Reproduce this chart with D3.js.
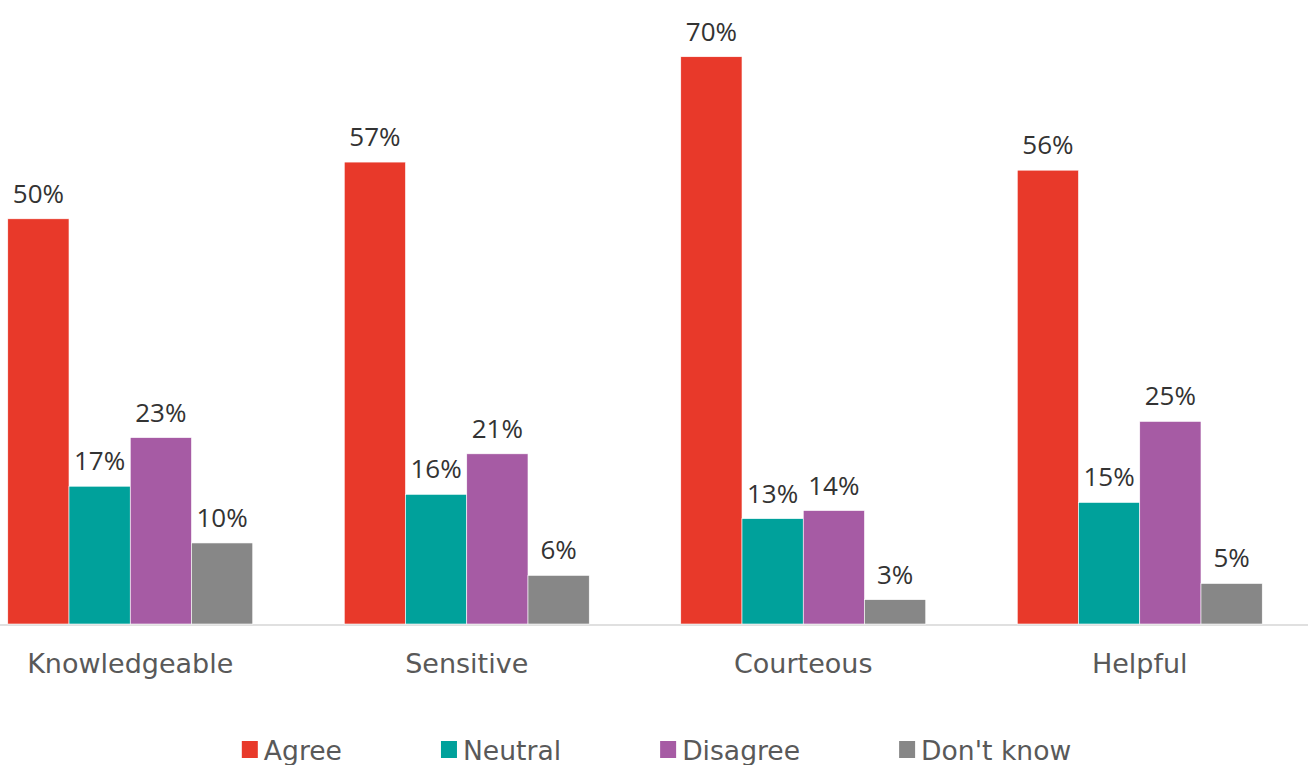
<!DOCTYPE html>
<html>
<head>
<meta charset="utf-8">
<script src="https://cdn.jsdelivr.net/npm/d3@7"></script>
<style>
  html, body { margin: 0; padding: 0; background: #fff; }
  svg { display: block; }
</style>
</head>
<body>
<svg id="chart" width="1309" height="765"></svg>
<script>
const categories = ["Knowledgeable", "Sensitive", "Courteous", "Helpful"];
const seriesNames = ["Agree", "Neutral", "Disagree", "Don't know"];
const agree = [50, 57, 70, 56];
const neutral = [17, 16, 13, 15];
const disagree = [23, 21, 14, 25];
const dontKnow = [10, 6, 3, 5];
const colors = ["#E8392A", "#00A19B", "#A65BA4", "#878787"];

const seriesValues = [agree, neutral, disagree, dontKnow];

const svg = d3.select("#chart");
const W = 1309, H = 765;
const baseY = 624;

const x0 = d3.scaleBand().domain(categories).range([-38, 1308])
  .paddingInner(0.272).paddingOuter(0.136);
const x1 = d3.scaleBand().domain(seriesNames).range([0, x0.bandwidth()]).padding(0);
const y = d3.scaleLinear().domain([0, 77]).range([baseY, 0]);

// axis baseline
svg.append("line")
  .attr("x1", 0).attr("x2", 1308)
  .attr("y1", baseY + 1).attr("y2", baseY + 1)
  .attr("stroke", "#e0e0e0").attr("stroke-width", 2);

const groups = svg.selectAll("g.cat").data(categories).join("g")
  .attr("class", "cat")
  .attr("transform", d => `translate(${x0(d)},0)`);

groups.each(function(cat, ci) {
  const g = d3.select(this);
  seriesNames.forEach((s, si) => {
    const v = seriesValues[si][ci];
    g.append("rect")
      .attr("x", x1(s))
      .attr("y", y(v))
      .attr("width", x1.bandwidth())
      .attr("height", baseY - y(v))
      .attr("fill", colors[si])
      .attr("stroke", "#fff")
      .attr("stroke-width", 0.6);
    g.append("text")
      .attr("x", x1(s) + x1.bandwidth() / 2)
      .attr("y", y(v) - 16)
      .attr("text-anchor", "middle")
      .attr("font-family", "'Open Sans', sans-serif")
      .attr("font-size", 26)
      .attr("fill", "#333333")
      .text(v + "%");
  });
  g.append("text")
    .attr("x", x0.bandwidth() / 2)
    .attr("y", 673)
    .attr("text-anchor", "middle")
    .attr("font-family", "'DejaVu Sans', sans-serif")
    .attr("font-size", 27)
    .attr("fill", "#595959")
    .text(cat);
});

// legend
const legend = svg.append("g");
let lx = 0;
seriesNames.forEach((s, i) => {
  const it = legend.append("g");
  it.append("rect").attr("x", 0).attr("y", 741).attr("width", 16).attr("height", 17)
    .attr("fill", colors[i]);
  const t = it.append("text").attr("x", 22).attr("y", 760)
    .attr("font-family", "'DejaVu Sans', sans-serif")
    .attr("font-size", 26.6)
    .attr("fill", "#595959")
    .text(s);
  const w = 22 + t.node().getComputedTextLength();
  it.attr("transform", `translate(${lx},0)`);
  lx += w + 99;
});
const totalW = lx - 99;
legend.attr("transform", `translate(${(W - totalW) / 2 + 2},0)`);
</script>
</body>
</html>
